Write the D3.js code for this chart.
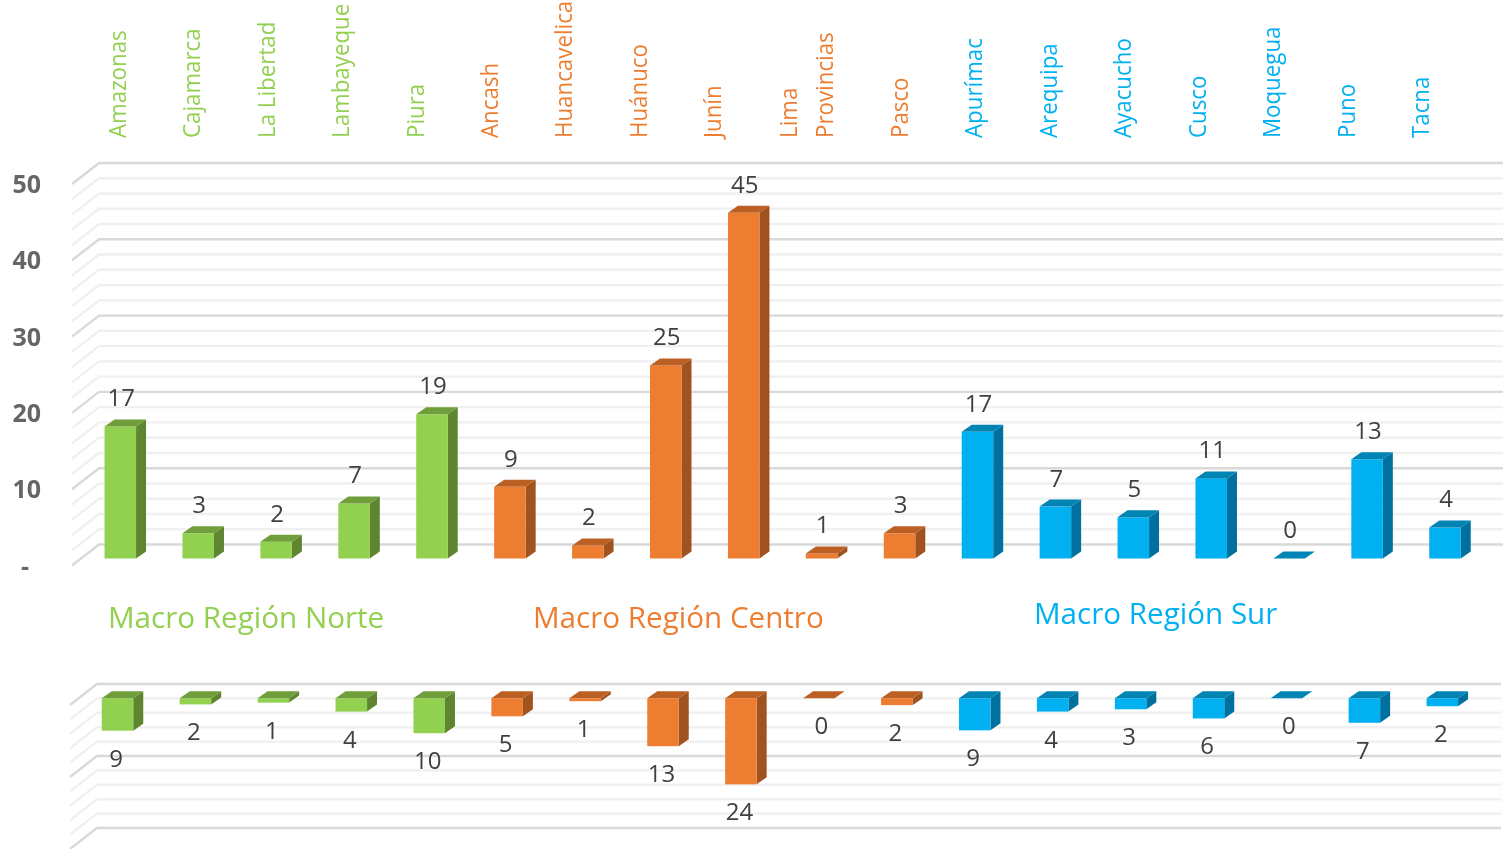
<!DOCTYPE html>
<html><head><meta charset="utf-8">
<script src="https://cdn.jsdelivr.net/npm/d3@7"></script>
<style>html,body{margin:0;padding:0;background:#fff}svg{display:block;filter:blur(0.4px)}text{font-family:"Open Sans","Noto Sans",sans-serif}</style>
</head><body><svg id="c" width="1506" height="849"></svg>
<script>
const categories=["Amazonas","Cajamarca","La Libertad","Lambayeque","Piura","Ancash","Huancavelica","Huánuco","Junín","Lima Provincias","Pasco","Apurímac","Arequipa","Ayacucho","Cusco","Moquegua","Puno","Tacna"];
const regions=["Norte","Norte","Norte","Norte","Norte","Centro","Centro","Centro","Centro","Centro","Centro","Sur","Sur","Sur","Sur","Sur","Sur","Sur"];
const upperValues=[17.3,3.3,2.2,7.2,18.9,9.4,1.7,25.3,45.3,0.66,3.3,16.6,6.8,5.4,10.5,0,13,4.06];
const lowerValues=[9,1.7,1.2,3.7,9.7,5,0.8,13.3,23.9,0,1.9,8.9,3.7,3.05,5.6,0,6.8,2.2];
const upperTicks=[0,10,20,30,40,50];
const regionTitles=[["Norte","Macro Región Norte"],["Centro","Macro Región Centro"],["Sur","Macro Región Sur"]];
const palette={Norte:{f:"#92D050",t:"#6F9E3A",s:"#5F8530"},Centro:{f:"#ED7D31",t:"#BC5F22",s:"#A0531F"},Sur:{f:"#00B0F0",t:"#0084B4",s:"#00709E"}};

const svg=d3.select("#c");
const W=31.5,DX=10,DY=7;
const fmt=v=>String(Math.round(v));

function grid(g,y,ticks,majorEvery,x0,x1,dx,dy){
  const lines=g.selectAll("g.l").data(ticks).join("g").attr("class","l")
    .attr("fill","none").attr("stroke-width",2.4).attr("stroke-linejoin","round")
    .attr("stroke",d=>d%majorEvery===0?"#d9d9d9":"#f0f0f0");
  lines.append("path").attr("d",d=>`M${x1},${y(d)}H${x0}l${-dx},${dy}`);
  lines.sort((a,b)=>(a%majorEvery===0)-(b%majorEvery===0));
}

// category labels
const labelX=d3.scaleLinear().domain([0,8,10,17]).range([119,714,901,1422]);
const catG=svg.append("g");
categories.forEach((c,i)=>{
  const parts=c==="Lima Provincias"?["Lima","Provincias"]:[c];
  parts.forEach((p,k)=>{
    const off=parts.length>1?(k===0?-18:18):0;
    catG.append("text").attr("transform",`translate(${labelX(i)+off+7},138) rotate(-90) scale(0.93,1)`)
      .attr("font-size",24).attr("fill",palette[regions[i]].f).text(p);
  });
});

// upper panel
const yU=d3.scaleLinear().domain([0,50]).range([544.5,163]);
const xU=d3.scalePoint().domain(categories).range([120.3,1445]);
const gU=svg.append("g");
grid(gU,yU,d3.range(0,51,2),10,99,1503,27,21);
const axisU=svg.append("g").attr("transform","translate(41,21.5)")
  .call(d3.axisLeft(yU).tickValues(upperTicks).tickSize(0).tickPadding(0).tickFormat(v=>v===0?"-":v));
axisU.select(".domain").remove();
axisU.selectAll("text").attr("font-size",25).attr("font-weight",700).attr("fill","#666")
  .attr("font-family",'"Open Sans",sans-serif')
  .attr("dx",d=>d===0?-12:0);

function bars(root,x,values,base,scaleH,down){
  const g=root.selectAll("g.b").data(values).join("g").attr("class","b")
    .attr("transform",(d,i)=>`translate(${x(categories[i])-W/2},${base})`);
  const col=(i)=>palette[regions[i]];
  g.each(function(v,i){
    const h=scaleH(v),s=d3.select(this),c=col(i);
    const top=down?0:-h,bot=down?h:0;
    if(h>0){
      s.append("path").attr("fill",c.s).attr("d",`M${W},${top}l${DX},${-DY}V${bot-DY}L${W},${bot}Z`);
      s.append("rect").attr("x",0).attr("y",top).attr("width",W).attr("height",h).attr("fill",c.f);
    }
    s.append("path").attr("fill",c.t).attr("d",`M0,${top}l${DX},${-DY}h${W}l${-DX},${DY}Z`);
  });
  return g;
}
const baseU=yU(0)+14;
const hU=v=>yU(0)-yU(v);
bars(gU.append("g"),xU,upperValues,baseU,hU,false);
svg.append("g").selectAll("text").data(upperValues).join("text")
  .attr("x",(d,i)=>xU(categories[i])+1).attr("y",d=>baseU-hU(d)-28.5)
  .attr("dy","0.35em").attr("text-anchor","middle").attr("font-size",24).attr("fill","#404040").text(fmt);

// region titles
const titleX=[108,533,1034],titleY=[628,628,624];
svg.append("g").selectAll("text").data(regionTitles).join("text")
  .attr("x",(d,i)=>titleX[i]).attr("y",(d,i)=>titleY[i])
  .attr("font-size",29.6).attr("fill",d=>palette[d[0]].f).text(d=>d[1]);

// lower panel
const yL=d3.scaleLinear().domain([0,40]).range([684,828]);
const xL=d3.scalePoint().domain(categories).range([117.5,1442.3]);
const gL=svg.append("g");
grid(gL,yL,d3.range(0,41,4),20,97,1501,27,21);
const baseL=yL(0)+14.3;
const hL=v=>yL(v)-yL(0);
bars(gL.append("g"),xL,lowerValues,baseL,hL,true);
svg.append("g").selectAll("text").data(lowerValues).join("text")
  .attr("x",(d,i)=>xL(categories[i])+(d===0?2.5:-1.5)).attr("y",d=>baseL+hL(d)+27.5)
  .attr("dy","0.35em").attr("text-anchor","middle").attr("font-size",24).attr("fill","#404040").text(fmt);
</script></body></html>
